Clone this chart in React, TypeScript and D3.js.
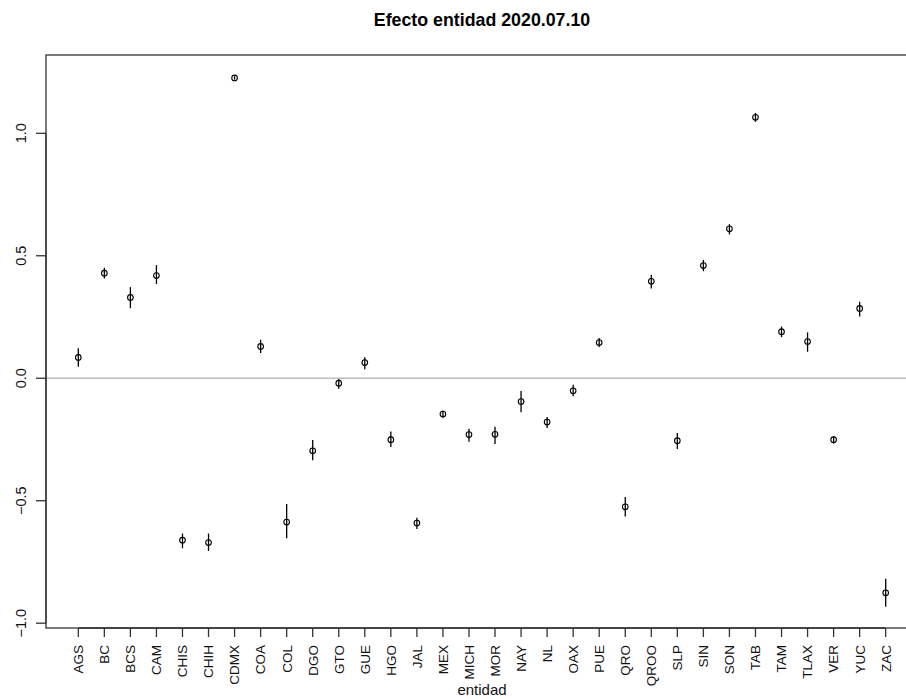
import React, { useEffect, useRef } from "react";
import * as d3 from "d3";

// entidades, in plot order
const entidades = [
  "AGS", "BC", "BCS", "CAM", "CHIS", "CHIH", "CDMX", "COA", "COL", "DGO",
  "GTO", "GUE", "HGO", "JAL", "MEX", "MICH", "MOR", "NAY", "NL", "OAX",
  "PUE", "QRO", "QROO", "SLP", "SIN", "SON", "TAB", "TAM", "TLAX", "VER",
  "YUC", "ZAC",
];

// point estimate of the effect
const efecto = [
  0.085, 0.429, 0.330, 0.419, -0.661, -0.671, 1.226, 0.130, -0.587, -0.296,
  -0.020, 0.064, -0.251, -0.591, -0.146, -0.230, -0.229, -0.095, -0.179, -0.051,
  0.146, -0.525, 0.396, -0.255, 0.460, 0.610, 1.065, 0.190, 0.150, -0.251,
  0.285, -0.876,
];

// interval ends
const inferior = [
  0.047, 0.407, 0.286, 0.385, -0.694, -0.705, 1.219, 0.103, -0.653, -0.335,
  -0.043, 0.037, -0.281, -0.615, -0.161, -0.259, -0.268, -0.139, -0.203, -0.074,
  0.128, -0.564, 0.366, -0.289, 0.437, 0.587, 1.047, 0.168, 0.108, -0.267,
  0.252, -0.933,
];
const superior = [
  0.122, 0.451, 0.372, 0.462, -0.634, -0.634, 1.233, 0.157, -0.513, -0.252,
  -0.003, 0.086, -0.217, -0.570, -0.133, -0.206, -0.198, -0.052, -0.158, -0.027,
  0.164, -0.485, 0.422, -0.224, 0.483, 0.629, 1.083, 0.211, 0.187, -0.237,
  0.312, -0.819,
];

const yTicks = [-1.0, -0.5, 0.0, 0.5, 1.0];

const App = () => {
  const svgRef = useRef<SVGSVGElement>(null);

  useEffect(() => {
    const width = 906;
    const height = 699;
    const plot = { left: 46, right: 918, top: 55, bottom: 628 };
    const font = "Liberation Sans, Arial, sans-serif";

    const svg = d3.select(svgRef.current);
    svg.selectAll("*").remove();
    svg.attr("width", width).attr("height", height);

    // R style 4% expansion of the data range
    const n = entidades.length;
    const xPad = (n - 1) * 0.04;
    const x = d3.scaleLinear()
      .domain([1 - xPad, n + xPad])
      .range([plot.left, plot.right]);

    const yMin = d3.min(inferior) as number;
    const yMax = d3.max(superior) as number;
    const yPad = (yMax - yMin) * 0.04;
    const y = d3.scaleLinear()
      .domain([yMin - yPad, yMax + yPad])
      .range([plot.bottom, plot.top]);

    // zero reference line
    svg.append("line")
      .attr("x1", plot.left).attr("x2", plot.right)
      .attr("y1", y(0)).attr("y2", y(0))
      .attr("stroke", "#bebebe")
      .attr("stroke-width", 1.3);

    // intervals
    svg.append("g")
      .selectAll("line")
      .data(entidades)
      .join("line")
      .attr("x1", (d, i) => x(i + 1))
      .attr("x2", (d, i) => x(i + 1))
      .attr("y1", (d, i) => y(inferior[i]))
      .attr("y2", (d, i) => y(superior[i]))
      .attr("stroke", "black")
      .attr("stroke-width", 1.3);

    // points (open circles, the interval shows through)
    svg.append("g")
      .selectAll("circle")
      .data(efecto)
      .join("circle")
      .attr("cx", (d, i) => x(i + 1))
      .attr("cy", (d) => y(d))
      .attr("r", 2.8)
      .attr("fill", "none")
      .attr("stroke", "black")
      .attr("stroke-width", 1.1);

    // box
    svg.append("rect")
      .attr("x", plot.left).attr("y", plot.top)
      .attr("width", plot.right - plot.left)
      .attr("height", plot.bottom - plot.top)
      .attr("fill", "none")
      .attr("stroke", "#333")
      .attr("stroke-width", 1.3);

    // x axis
    const xAxis = svg.append("g");
    xAxis.append("line")
      .attr("x1", x(1)).attr("x2", x(n))
      .attr("y1", plot.bottom).attr("y2", plot.bottom)
      .attr("stroke", "#333").attr("stroke-width", 1.3);
    entidades.forEach((d, i) => {
      xAxis.append("line")
        .attr("x1", x(i + 1)).attr("x2", x(i + 1))
        .attr("y1", plot.bottom).attr("y2", plot.bottom + 9)
        .attr("stroke", "#333").attr("stroke-width", 1.3);
      xAxis.append("text")
        .attr("transform", `translate(${x(i + 1)},${plot.bottom + 17}) rotate(-90)`)
        .attr("text-anchor", "end")
        .attr("dy", "0.36em")
        .attr("font-family", font)
        .attr("font-size", 13.5)
        .attr("fill", "#111")
        .text(d);
    });

    // y axis
    const yAxis = svg.append("g");
    yAxis.append("line")
      .attr("x1", plot.left).attr("x2", plot.left)
      .attr("y1", y(yTicks[0])).attr("y2", y(yTicks[yTicks.length - 1]))
      .attr("stroke", "#333").attr("stroke-width", 1.3);
    yTicks.forEach((t) => {
      yAxis.append("line")
        .attr("x1", plot.left - 10).attr("x2", plot.left)
        .attr("y1", y(t)).attr("y2", y(t))
        .attr("stroke", "#333").attr("stroke-width", 1.3);
      yAxis.append("text")
        .attr("transform", `translate(25.5,${y(t)}) rotate(-90)`)
        .attr("text-anchor", "middle")
        .attr("font-family", font)
        .attr("font-size", 14.5)
        .attr("fill", "#111")
        .text(d3.format(".1f")(t));
    });

    // titles
    svg.append("text")
      .attr("x", (plot.left + plot.right) / 2)
      .attr("y", 26)
      .attr("text-anchor", "middle")
      .attr("font-family", font)
      .attr("font-weight", "bold")
      .attr("font-size", 17.8)
      .text("Efecto entidad 2020.07.10");

    svg.append("text")
      .attr("x", (plot.left + plot.right) / 2)
      .attr("y", 695)
      .attr("text-anchor", "middle")
      .attr("font-family", font)
      .attr("font-size", 15)
      .attr("fill", "#111")
      .text("entidad");
  }, []);

  return (
    <div style={{ position: "absolute", left: 0, top: 0, width: 906, height: 699, overflow: "hidden", background: "white" }}>
      <svg ref={svgRef}></svg>
    </div>
  );
};

export default App;
